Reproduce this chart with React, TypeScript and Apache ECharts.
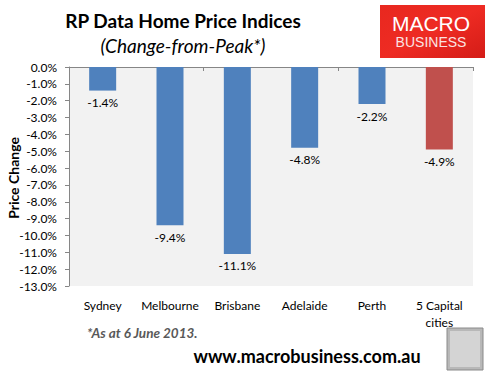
import React, { useEffect, useRef } from "react";
import * as echarts from "echarts";

const categories = ["Sydney", "Melbourne", "Brisbane", "Adelaide", "Perth", "5 Capital\ncities"];
const values = [-1.4, -9.4, -11.1, -4.8, -2.2, -4.9];
const barColors = ["#4f81bd", "#4f81bd", "#4f81bd", "#4f81bd", "#4f81bd", "#c0504d"];
const yMin = -13;
const yMax = 0;

const FONT = "Lato, 'Open Sans', sans-serif";

export default function App() {
  const ref = useRef<HTMLDivElement>(null);
  useEffect(() => {
    document.body.style.margin = "0";
    if (!ref.current) return;
    const chart = echarts.init(ref.current, undefined, { renderer: "svg" });
    chart.setOption({
      animation: false,
      backgroundColor: "#ffffff",
      textStyle: { fontFamily: FONT },
      grid: {
        left: 69,
        right: 15,
        top: 67,
        bottom: 87,
        show: true,
        backgroundColor: "#f2f2f2",
        borderWidth: 0,
      },
      xAxis: [
        {
          type: "category",
          data: categories,
          position: "bottom",
          axisLine: { show: false, onZero: false },
          axisTick: { show: false },
          axisLabel: {
            interval: 0,
            margin: 11,
            fontSize: 12,
            color: "#000",
            fontFamily: FONT,
            lineHeight: 17,
          },
        },
        {
          type: "category",
          data: categories,
          position: "top",
          axisLine: { show: true, onZero: false, lineStyle: { color: "#868686", width: 1 } },
          axisTick: { show: true, inside: true, length: 4, lineStyle: { color: "#868686" } },
          axisLabel: { show: false },
        },
      ],
      yAxis: {
        type: "value",
        min: yMin,
        max: yMax,
        interval: 1,
        axisLine: { show: true, lineStyle: { color: "#868686" } },
        axisTick: { show: true, inside: false, length: 4, lineStyle: { color: "#868686" } },
        splitLine: { show: false },
        axisLabel: {
          margin: 12,
          fontSize: 12,
          color: "#000",
          fontFamily: FONT,
          formatter: (v: number) => v.toFixed(1) + "%",
        },
      },
      series: [
        {
          type: "bar",
          xAxisIndex: 0,
          data: values.map((v, i) => ({ value: v, itemStyle: { color: barColors[i] } })),
          barWidth: 27,
          label: {
            show: true,
            position: "bottom",
            distance: 6,
            fontSize: 12,
            color: "#000",
            fontFamily: FONT,
            formatter: (p: any) => Number(p.value).toFixed(1) + "%",
          },
        },
      ],
      graphic: [
        {
          type: "text",
          x: 183,
          y: 20,
          style: {
            text: "RP Data Home Price Indices",
            font: "bold 19px " + FONT,
            fill: "#000",
            textAlign: "center",
            textVerticalAlign: "middle",
          },
        },
        {
          type: "text",
          x: 183,
          y: 45,
          style: {
            text: "(Change-from-Peak*)",
            font: "italic 19px " + FONT,
            fill: "#000",
            textAlign: "center",
            textVerticalAlign: "middle",
          },
        },
        {
          type: "rect",
          shape: { x: 380, y: 5, width: 105, height: 53 },
          style: {
            fill: new echarts.graphic.LinearGradient(0, 0, 1, 1, [
              { offset: 0, color: "#e8281f" },
              { offset: 0.5, color: "#ee2b23" },
              { offset: 1, color: "#d41c17" },
            ]),
          },
        },
        {
          type: "text",
          x: 431,
          y: 23,
          style: {
            text: "MACRO",
            font: "21px 'Liberation Sans', Arial, sans-serif",
            fill: "#ffffff",
            textAlign: "center",
            textVerticalAlign: "middle",
          },
        },
        {
          type: "text",
          x: 431,
          y: 42,
          style: {
            text: "BUSINESS",
            font: "14px 'Liberation Sans', Arial, sans-serif",
            fill: "#fbe3e2",
            textAlign: "center",
            textVerticalAlign: "middle",
          },
        },
        {
          type: "text",
          x: 13,
          y: 178,
          rotation: Math.PI / 2,
          style: {
            text: "Price Change",
            font: "bold 14px " + FONT,
            fill: "#000",
            textAlign: "center",
            textVerticalAlign: "middle",
          },
        },
        {
          type: "text",
          x: 87,
          y: 333,
          style: {
            text: "*As at 6 June 2013.",
            font: "italic bold 13.5px " + FONT,
            fill: "#595959",
            textVerticalAlign: "middle",
          },
        },
        {
          type: "text",
          x: 307,
          y: 356,
          style: {
            text: "www.macrobusiness.com.au",
            font: "bold 18px " + FONT,
            fill: "#000",
            textAlign: "center",
            textVerticalAlign: "middle",
          },
        },
        {
          type: "rect",
          shape: { x: 447, y: 328, width: 36, height: 42 },
          style: { fill: "#b8b8b8", stroke: "#8a8a8a", lineWidth: 1 },
        },
        {
          type: "rect",
          shape: { x: 450, y: 331, width: 30, height: 36 },
          style: { fill: "#d4d4d4" },
        },
      ],
    });
    return () => chart.dispose();
  }, []);
  return <div ref={ref} style={{ width: 488, height: 373 }} />;
}
